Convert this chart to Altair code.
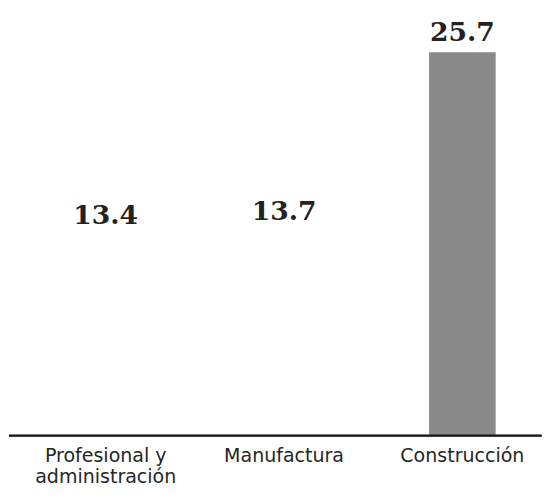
import altair as alt
import pandas as pd

categories = ["Profesional y\nadministración", "Manufactura", "Construcción"]
values = [13.4, 13.7, 25.7]
fills = ["#ffffff", "#ffffff", "#8a8a8a"]

df = pd.DataFrame({"cat": categories, "value": values, "fill": fills,
                   "label": [f"{v:.1f}" for v in values]})

x = alt.X("cat:N", sort=categories, title=None,
          scale=alt.Scale(paddingInner=0, paddingOuter=0, range=[0, 562.5]),
          axis=alt.Axis(domain=False, ticks=False, labelAngle=0,
                        labelFont="DejaVu Sans", labelFontSize=20,
                        labelColor="#262626", labelPadding=11,
                        labelExpr="split(datum.label, '\\n')",
                        labelLineHeight=22, labelBaseline="top",
                        labelOverlap=False, labelBound=False, labelFlush=False))
y = alt.Y("value:Q", scale=alt.Scale(domain=[0, 27.87], nice=False), axis=None)

bars = alt.Chart(df).mark_bar(size=70).encode(
    x=x, y=y, color=alt.Color("fill:N", scale=None)
)

labels = alt.Chart(df).mark_text(
    font="DejaVu Serif", fontWeight="bold", fontSize=28,
    baseline="alphabetic", dy=-12, color="#222222"
).encode(x=x, y=y, text="label:N")

axis_line = alt.Chart(df).mark_rule(color="#1e1e1e", strokeWidth=2).encode(
    x=alt.value(-8), x2=alt.value(552), y=alt.value(437)
)

chart = alt.layer(bars, labels, axis_line).properties(
    width=544, height=437, padding=0, background="white"
).configure_view(stroke=None)

chart.save("out.html", embed_options={"renderer": "svg", "actions": False})
